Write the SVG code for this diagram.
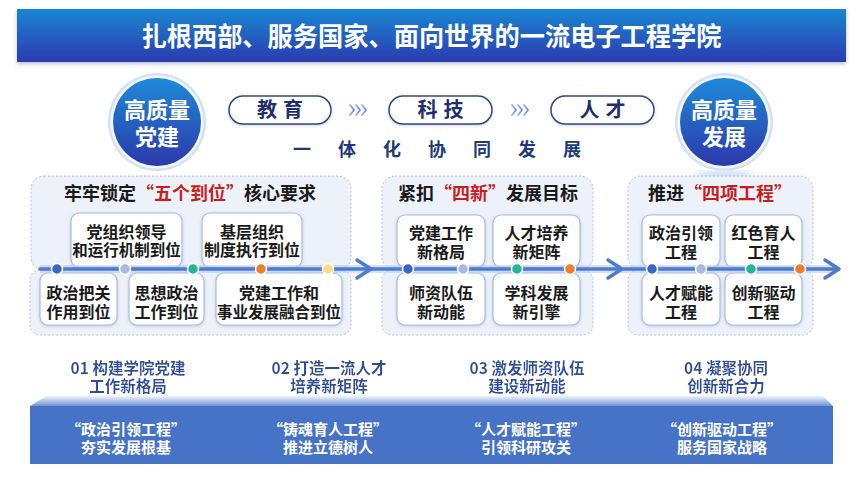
<svg xmlns="http://www.w3.org/2000/svg" width="862" height="481" viewBox="0 0 862 481">
<defs>
<linearGradient id="gTitle" x1="0" y1="0" x2="0" y2="1">
<stop offset="0" stop-color="#1b86d2"/>
<stop offset="1" stop-color="#2b3bb0"/>
</linearGradient>
<linearGradient id="gCircle" x1="0" y1="0" x2="0" y2="1">
<stop offset="0" stop-color="#1e8ad8"/>
<stop offset="1" stop-color="#2c38ab"/>
</linearGradient>
<linearGradient id="gBevel" x1="0" y1="0" x2="0" y2="1">
<stop offset="0" stop-color="#ffffff"/>
<stop offset="1" stop-color="#6f93d4"/>
</linearGradient>
<linearGradient id="gChev" x1="0" y1="0" x2="1" y2="0">
<stop offset="0" stop-color="#9fb6ea"/>
<stop offset="1" stop-color="#8087dc"/>
</linearGradient>
<filter id="shadow" x="-10%" y="-20%" width="120%" height="160%">
<feDropShadow dx="0" dy="2" stdDeviation="2" flood-color="#3a4a80" flood-opacity="0.35"/>
</filter>
<filter id="soft" x="-10%" y="-20%" width="120%" height="160%">
<feDropShadow dx="0" dy="1" stdDeviation="1.5" flood-color="#5a6fa8" flood-opacity="0.3"/>
</filter>
<filter id="glow" x="-20%" y="-40%" width="140%" height="180%">
<feDropShadow dx="0" dy="0" stdDeviation="1.5" flood-color="#ffffff" flood-opacity="1"/>
</filter>
<filter id="blur4"><feGaussianBlur stdDeviation="3"/></filter>
</defs>
<style>
text{font-family:"Noto Sans CJK SC","Noto Sans",sans-serif;font-weight:700}
.title{fill:#ffffff;font-size:26px}
.circ{fill:#ffffff;font-size:22px;text-anchor:middle}
.pill{fill:#ffffff;stroke:#34477f;stroke-width:1.5}
.pilltxt{fill:#1f2f6e;font-size:20px;text-anchor:middle;letter-spacing:6px}
.slogan{fill:#1f3a7a;font-size:18px;text-anchor:middle}
.panel{fill:#edf1f9;stroke:#b4c0d8;stroke-width:1;stroke-dasharray:2 2}
.hdr{fill:#1a1a1a;font-size:18px;text-anchor:middle}
.red{fill:#c81e1e}
.box{fill:#ffffff;stroke:#a9bde2;stroke-width:1.2}
.bt{fill:#1a1a1a;font-size:16px;text-anchor:middle}
.s15{font-size:15.5px}
.line{stroke:#4c7bd0;stroke-width:3.5;fill:none;stroke-linecap:round;stroke-linejoin:round}
.lineglow{stroke:#b9cdf0;stroke-width:8;fill:none;opacity:0.6}
.dot{stroke:#ffffff;stroke-width:1.5}
.lab{fill:#2b4ea0;font-size:15.5px;text-anchor:middle}
.band{fill:#ffffff;font-size:15px;text-anchor:middle}
.chev{fill:none;stroke:url(#gChev);stroke-width:2;stroke-linecap:round;stroke-linejoin:round}
</style>

<g id="title">
<rect x="17" y="9" width="829" height="53" fill="url(#gTitle)" filter="url(#shadow)"/>
<text class="title" x="431.5" y="46" text-anchor="middle" textLength="580" lengthAdjust="spacingAndGlyphs">扎根西部、服务国家、面向世界的一流电子工程学院</text>
</g>

<g id="circle-left">
<circle cx="157" cy="122" r="49" fill="#d5e1f4"/>
<circle cx="157" cy="122" r="46.5" fill="#ffffff" opacity="0.7"/>
<circle cx="157" cy="122" r="44" fill="url(#gCircle)"/>
<text class="circ" x="157" y="118">高质量<tspan x="157" dy="27">党建</tspan></text>
</g>

<g id="circle-right">
<ellipse cx="724" cy="175" rx="30" ry="4" fill="#a8c2ec" opacity="0.6" filter="url(#blur4)"/>
<circle cx="724" cy="122" r="49" fill="#d5e1f4"/>
<circle cx="724" cy="122" r="46.5" fill="#ffffff" opacity="0.7"/>
<circle cx="724" cy="122" r="44" fill="url(#gCircle)"/>
<text class="circ" x="724" y="118">高质量<tspan x="724" dy="27">发展</tspan></text>
</g>

<g id="pill-edu">
<rect class="pill" x="229" y="96" width="102" height="28" rx="14" filter="url(#soft)"/>
<text class="pilltxt" x="283" y="117">教育</text>
</g>
<g id="pill-tech">
<rect class="pill" x="389" y="96" width="103" height="28" rx="14" filter="url(#soft)"/>
<text class="pilltxt" x="443.5" y="117">科技</text>
</g>
<g id="pill-talent">
<rect class="pill" x="551" y="96" width="103" height="28" rx="14" filter="url(#soft)"/>
<text class="pilltxt" x="605.5" y="117">人才</text>
</g>
<g id="chevrons">
<polyline class="chev" points="350,105 354,110 350,115"/>
<polyline class="chev" points="356,105 360,110 356,115"/>
<polyline class="chev" points="362,105 366,110 362,115"/>
<polyline class="chev" points="512,105 516,110 512,115"/>
<polyline class="chev" points="518,105 522,110 518,115"/>
<polyline class="chev" points="524,105 528,110 524,115"/>
</g>
<g id="slogan">
<text class="slogan" x="302" y="156">一</text>
<text class="slogan" x="347" y="156">体</text>
<text class="slogan" x="392" y="156">化</text>
<text class="slogan" x="437" y="156">协</text>
<text class="slogan" x="482" y="156">同</text>
<text class="slogan" x="527" y="156">发</text>
<text class="slogan" x="572" y="156">展</text>
</g>

<g id="panel-1">
<rect class="panel" x="31" y="176" width="320" height="94" rx="13"/>
<rect class="panel" x="30" y="270" width="321" height="65" rx="10"/>
<text class="hdr" x="190" y="200">牢牢锁定<tspan class="red">“五个到位”</tspan>核心要求</text>
</g>
<g id="node-p1a">
<rect class="box" x="71" y="213" width="111" height="54" rx="8" filter="url(#soft)"/>
<text class="bt" x="126.5" y="238">党组织领导<tspan class="s15" x="126.5" dy="18">和运行机制到位</tspan></text>
</g>
<g id="node-p1b">
<rect class="box" x="202" y="213" width="100" height="54" rx="8" filter="url(#soft)"/>
<text class="bt" x="252" y="238">基层组织<tspan x="252" dy="18">制度执行到位</tspan></text>
</g>
<g id="node-p1c">
<rect class="box" x="40" y="273" width="77" height="52" rx="8" filter="url(#soft)"/>
<text class="bt" x="78.5" y="299">政治把关<tspan x="78.5" dy="19">作用到位</tspan></text>
</g>
<g id="node-p1d">
<rect class="box" x="129" y="273" width="75" height="52" rx="8" filter="url(#soft)"/>
<text class="bt" x="166.5" y="299">思想政治<tspan x="166.5" dy="19">工作到位</tspan></text>
</g>
<g id="node-p1e">
<rect class="box" x="216" y="273" width="126" height="52" rx="8" filter="url(#soft)"/>
<text class="bt" x="279" y="299">党建工作和<tspan class="s15" x="279" dy="19">事业发展融合到位</tspan></text>
</g>

<g id="panel-2">
<rect class="panel" x="382" y="176" width="211" height="94" rx="13"/>
<rect class="panel" x="382" y="270" width="211" height="65" rx="10"/>
<text class="hdr" x="488" y="200">紧扣<tspan class="red">“四新”</tspan>发展目标</text>
</g>
<g id="node-p2a">
<rect class="box" x="397" y="215" width="88" height="52" rx="8" filter="url(#soft)"/>
<text class="bt" x="441" y="239">党建工作<tspan x="441" dy="19">新格局</tspan></text>
</g>
<g id="node-p2b">
<rect class="box" x="493" y="215" width="87" height="52" rx="8" filter="url(#soft)"/>
<text class="bt" x="536.5" y="239">人才培养<tspan x="536.5" dy="19">新矩阵</tspan></text>
</g>
<g id="node-p2c">
<rect class="box" x="397" y="273" width="88" height="52" rx="8" filter="url(#soft)"/>
<text class="bt" x="441" y="299">师资队伍<tspan x="441" dy="19">新动能</tspan></text>
</g>
<g id="node-p2d">
<rect class="box" x="493" y="273" width="87" height="52" rx="8" filter="url(#soft)"/>
<text class="bt" x="536.5" y="299">学科发展<tspan x="536.5" dy="19">新引擎</tspan></text>
</g>

<g id="panel-3">
<rect class="panel" x="628" y="176" width="185" height="94" rx="13"/>
<rect class="panel" x="628" y="270" width="185" height="65" rx="10"/>
<text class="hdr" x="720" y="200">推进<tspan class="red">“四项工程”</tspan></text>
</g>
<g id="node-p3a">
<rect class="box" x="642" y="215" width="78" height="52" rx="8" filter="url(#soft)"/>
<text class="bt" x="681" y="239">政治引领<tspan x="681" dy="19">工程</tspan></text>
</g>
<g id="node-p3b">
<rect class="box" x="725" y="215" width="77" height="52" rx="8" filter="url(#soft)"/>
<text class="bt" x="763.5" y="239">红色育人<tspan x="763.5" dy="19">工程</tspan></text>
</g>
<g id="node-p3c">
<rect class="box" x="642" y="273" width="78" height="52" rx="8" filter="url(#soft)"/>
<text class="bt" x="681" y="299">人才赋能<tspan x="681" dy="19">工程</tspan></text>
</g>
<g id="node-p3d">
<rect class="box" x="725" y="273" width="77" height="52" rx="8" filter="url(#soft)"/>
<text class="bt" x="763.5" y="299">创新驱动<tspan x="763.5" dy="19">工程</tspan></text>
</g>

<g id="connectors">
<line class="lineglow" x1="40" y1="269" x2="836" y2="269"/>
<line class="line" x1="40" y1="269" x2="838" y2="269"/>
<polyline class="line" points="357,260 371,269 357,278"/>
<polyline class="line" points="608,260 622,269 608,278"/>
<polyline class="line" points="825,260 839,269 825,278"/>
<circle class="dot" cx="57" cy="269" r="5.5" fill="#3a66c4"/>
<circle class="dot" cx="125" cy="269" r="5.5" fill="#a9b9e3"/>
<circle class="dot" cx="193" cy="269" r="5.5" fill="#27b39b"/>
<circle class="dot" cx="261" cy="269" r="5.5" fill="#ee7d2c"/>
<circle class="dot" cx="328" cy="269" r="5.5" fill="#fbdc86"/>
<circle class="dot" cx="408" cy="269" r="5.5" fill="#3a66c4"/>
<circle class="dot" cx="463" cy="269" r="5.5" fill="#a9b9e3"/>
<circle class="dot" cx="517" cy="269" r="5.5" fill="#27b39b"/>
<circle class="dot" cx="570" cy="269" r="5.5" fill="#ee7d2c"/>
<circle class="dot" cx="652" cy="269" r="5.5" fill="#3a66c4"/>
<circle class="dot" cx="701" cy="269" r="5.5" fill="#a9b9e3"/>
<circle class="dot" cx="751" cy="269" r="5.5" fill="#27b39b"/>
<circle class="dot" cx="800" cy="269" r="5.5" fill="#ee7d2c"/>
</g>

<g id="band">
<polygon points="30,406 48,395 822,395 833,406" fill="url(#gBevel)"/>
<rect x="30" y="406" width="803" height="58" fill="#4673c6"/>
</g>

<g id="labels" filter="url(#glow)">
<text class="lab" x="128" y="374">01 构建学院党建<tspan x="128" dy="18">工作新格局</tspan></text>
<text class="lab" x="329" y="374">02 打造一流人才<tspan x="329" dy="18">培养新矩阵</tspan></text>
<text class="lab" x="527" y="374">03 激发师资队伍<tspan x="527" dy="18">建设新动能</tspan></text>
<text class="lab" x="726" y="374">04 凝聚协同<tspan x="726" dy="18">创新新合力</tspan></text>
</g>
<g id="band-text">
<text class="band" x="126" y="435">“政治引领工程”<tspan x="126" dy="18">夯实发展根基</tspan></text>
<text class="band" x="328" y="435">“铸魂育人工程”<tspan x="328" dy="18">推进立德树人</tspan></text>
<text class="band" x="526" y="435">“人才赋能工程”<tspan x="526" dy="18">引领科研攻关</tspan></text>
<text class="band" x="722" y="435">“创新驱动工程”<tspan x="722" dy="18">服务国家战略</tspan></text>
</g>
</svg>
